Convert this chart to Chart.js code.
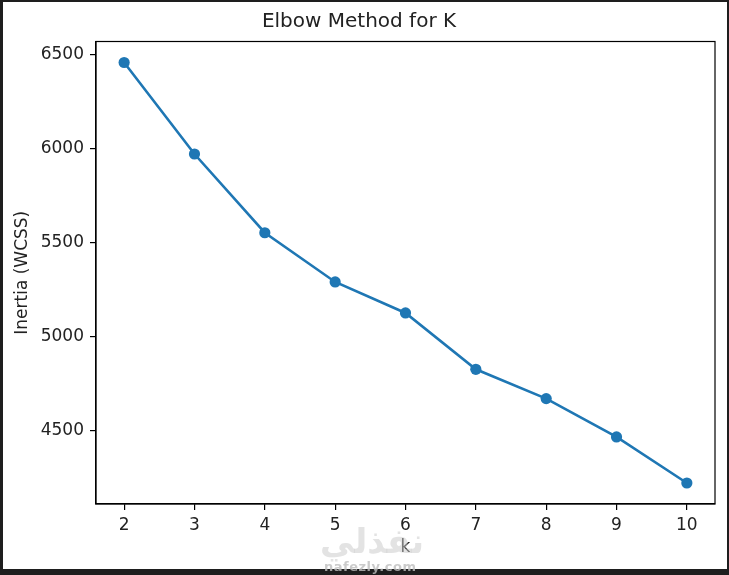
<!DOCTYPE html>
<html>
<head>
<meta charset="utf-8">
<script src="https://cdn.jsdelivr.net/npm/chart.js@4.4.1/dist/chart.umd.min.js"></script>
<style>
  html, body { margin: 0; padding: 0; background: #1e1e1e; }
  #frame {
    position: absolute; left: 0; top: 0;
    width: 724px; height: 567px;
    border-left: 3px solid #1e1e1e; border-top: 2px solid #1e1e1e;
    border-right: 2px solid #1e1e1e; border-bottom: 6px solid #1e1e1e;
    background: #fff;
  }
  #chart { display: block; }
  .wm { position: absolute; pointer-events: none; white-space: nowrap; }
  #wmAr { left: 320px; top: 521px; font: bold 34px "DejaVu Sans", sans-serif; color: rgba(200,200,200,0.5); }
  #wmEn { left: 324px; top: 559px; font: bold 13px "DejaVu Sans", sans-serif; color: rgba(190,190,190,0.8); letter-spacing: 0.5px; }
</style>
</head>
<body>
<div id="frame"><canvas id="chart" width="724" height="567"></canvas></div>
<div class="wm" id="wmAr">نفذلي</div>
<div class="wm" id="wmEn">nafezly.com</div>
<script>
// データ (k と慣性)
const kValues = [2, 3, 4, 5, 6, 7, 8, 9, 10];
const inertia = [6459, 5972, 5553, 5291, 5126, 4826, 4670, 4466, 4221];
const yTicks = [4500, 5000, 5500, 6000, 6500];

const lineColor = '#1f77b4';
const textColor = '#222';
const font = { family: '"DejaVu Sans", sans-serif', size: 17 };

// matplotlib 風の 5% マージン
const yMinData = Math.min(...inertia);
const yMaxData = Math.max(...inertia);
const ySpan = yMaxData - yMinData;
const xSpan = kValues[kValues.length - 1] - kValues[0];

// 上と右の枠線
const boxPlugin = {
  id: 'box',
  afterDraw(chart) {
    const { ctx, chartArea: a } = chart;
    ctx.save();
    ctx.strokeStyle = '#000';
    ctx.lineWidth = 1.2;
    ctx.strokeRect(a.left, a.top, a.right - a.left, a.bottom - a.top);
    ctx.restore();
  }
};

new Chart(document.getElementById('chart'), {
  type: 'line',
  data: {
    datasets: [{
      data: kValues.map((k, i) => ({ x: k, y: inertia[i] })),
      borderColor: lineColor,
      backgroundColor: lineColor,
      borderWidth: 2.6,
      pointRadius: 5.6,
      pointHoverRadius: 5.6,
      pointBorderWidth: 0,
      tension: 0
    }]
  },
  options: {
    responsive: false,
    animation: false,
    layout: { padding: { left: 0, right: 12, top: 0, bottom: 0 } },
    plugins: {
      legend: { display: false },
      tooltip: { enabled: false },
      title: {
        display: true,
        text: 'Elbow Method for K',
        color: textColor,
        font: { family: font.family, size: 20, weight: 'normal' },
        padding: { top: 8, bottom: 7.5 }
      }
    },
    scales: {
      x: {
        type: 'linear',
        min: kValues[0] - 0.05 * xSpan,
        max: kValues[kValues.length - 1] + 0.05 * xSpan,
        afterBuildTicks: s => { s.ticks = kValues.map(v => ({ value: v })); },
        afterFit: s => { s.height = 65; },
        grid: { drawOnChartArea: false, drawTicks: true, tickLength: 6, color: '#000', lineWidth: 1.2 },
        border: { display: true, color: '#000', width: 1.2 },
        ticks: { color: textColor, font: font, padding: 5, maxRotation: 0, callback: v => String(v) },
        title: { display: true, text: 'k', color: textColor, font: font, padding: { top: 0, bottom: 11 } }
      },
      y: {
        type: 'linear',
        min: yMinData - 0.05 * ySpan,
        max: yMaxData + 0.05 * ySpan,
        afterBuildTicks: s => { s.ticks = yTicks.map(v => ({ value: v })); },
        afterFit: s => { s.width = 93; },
        grid: { drawOnChartArea: false, drawTicks: true, tickLength: 6, color: '#000', lineWidth: 1.2 },
        border: { display: true, color: '#000', width: 1.2 },
        ticks: { color: textColor, font: font, padding: 6, callback: v => String(v) },
        title: { display: true, text: 'Inertia (WCSS)', color: textColor, font: font, padding: { top: 9, bottom: 0 } }
      }
    }
  },
  plugins: [boxPlugin]
});
</script>
</body>
</html>
